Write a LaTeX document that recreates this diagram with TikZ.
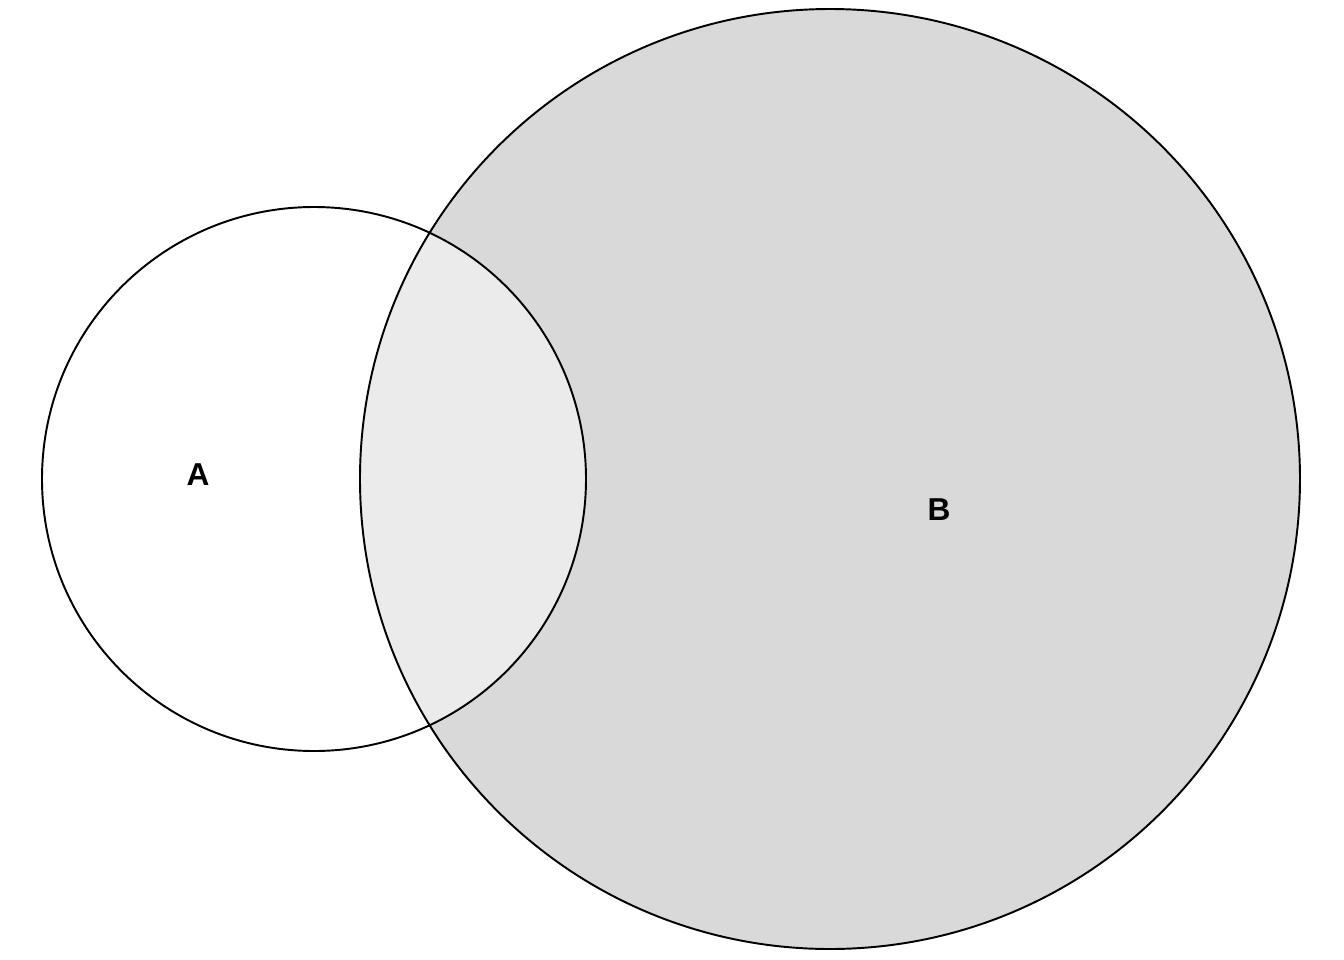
\documentclass[tikz,border=0pt]{standalone}
\usepackage{fontspec}
\setmainfont{Liberation Sans}
\definecolor{setB}{HTML}{D9D9D9}
\definecolor{setAB}{HTML}{EBEBEB}
\tikzset{
  setline/.style={draw=black, line width=0.55pt},
  setlabel/.style={font=\fontsize{9}{11}\selectfont\bfseries}
}
\begin{document}
\begin{tikzpicture}[x=0.01cm, y=-0.01cm]
\useasboundingbox (0, 0) rectangle (1344, 960);

\fill[setB] (830, 479) circle (470);
\begin{scope}
\clip (314, 479) circle (272);
\fill[setAB] (830, 479) circle (470);
\end{scope}

\draw[setline] (314, 479) circle (272);
\draw[setline] (830, 479) circle (470);

\node[setlabel] (labA) at (198, 475) {A};
\node[setlabel] (labB) at (939, 510) {B};
\end{tikzpicture}
\end{document}
